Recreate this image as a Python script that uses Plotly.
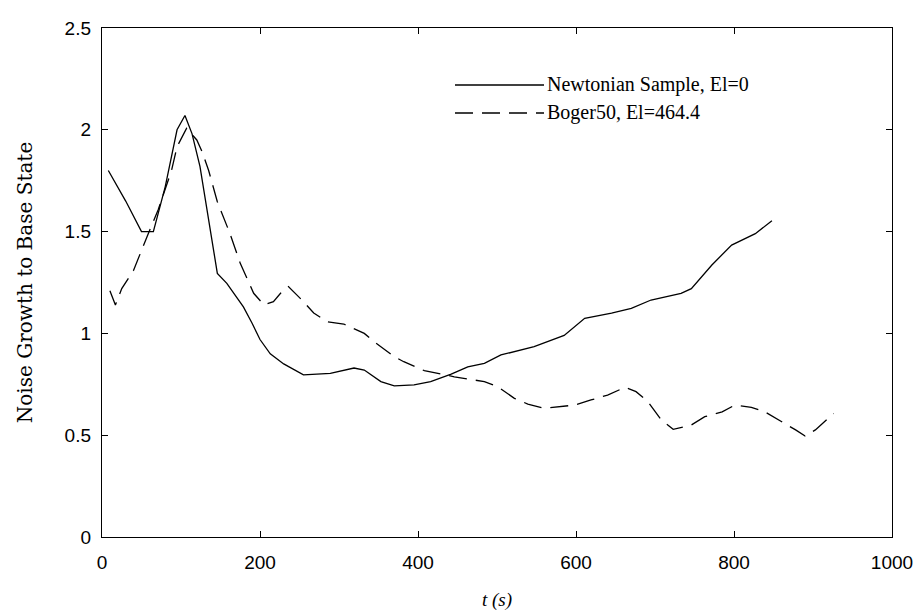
import plotly.graph_objects as go

# Newtonian sample (El = 0)
t_newt = [8, 30, 50, 65, 80, 95, 105, 114, 124, 135, 146, 158, 166, 179, 190, 200, 213, 230,
          255, 289, 319, 332, 353, 370, 395, 416, 442, 463, 484, 505, 547, 585, 611, 645,
          670, 695, 733, 746, 772, 797, 827, 848]
g_newt = [1.80, 1.65, 1.50, 1.50, 1.72, 2.00, 2.07, 1.98, 1.82, 1.55, 1.295, 1.246, 1.20, 1.13,
          1.05, 0.97, 0.90, 0.85, 0.796, 0.804, 0.83, 0.82, 0.763, 0.742, 0.747, 0.763, 0.80,
          0.836, 0.853, 0.894, 0.935, 0.99, 1.074, 1.10, 1.123, 1.164, 1.197, 1.22, 1.336,
          1.434, 1.49, 1.553]

# Boger50 fluid (El = 464.4)
t_boger = [10, 17, 25, 40, 57, 71, 88, 95, 107, 120, 127, 135, 146, 162, 175, 192, 205, 217,
           226, 236, 255, 268, 285, 306, 332, 344, 370, 382, 408, 446, 484, 501, 522, 539,
           560, 598, 619, 640, 662, 676, 691, 708, 723, 746, 763, 785, 801, 822, 839, 861,
           878, 890, 903, 926]
g_boger = [1.21, 1.14, 1.22, 1.31, 1.475, 1.606, 1.80, 1.917, 2.007, 1.95, 1.89, 1.80, 1.647,
           1.49, 1.344, 1.197, 1.14, 1.156, 1.197, 1.23, 1.156, 1.10, 1.057, 1.046, 1.0, 0.96,
           0.886, 0.861, 0.817, 0.787, 0.763, 0.738, 0.681, 0.653, 0.632, 0.648, 0.673,
           0.697, 0.735, 0.714, 0.665, 0.575, 0.529, 0.55, 0.591, 0.615, 0.648, 0.637, 0.615,
           0.566, 0.526, 0.496, 0.526, 0.607]

series_names = ["Newtonian Sample, El=0", "Boger50, El=464.4"]
x_ticks = [0, 200, 400, 600, 800, 1000]
y_ticks = [0, 0.5, 1, 1.5, 2, 2.5]
y_tick_text = ["0", "0.5", "1", "1.5", "2", "2.5"]

DASH = "18px,9px"
fig = go.Figure()
fig.add_trace(go.Scatter(x=t_newt, y=g_newt, mode="lines", name=series_names[0],
                         line=dict(color="black", width=1.3), showlegend=False))
fig.add_trace(go.Scatter(x=t_boger, y=g_boger, mode="lines", name=series_names[1],
                         line=dict(color="black", width=1.3, dash=DASH), showlegend=False))

# Legend drawn by hand so the line samples can be long
W, H = 922, 612
L, R, T, B = 102, 30, 28, 75
pw, ph = W - L - R, H - T - B


def px(x):
    return (x - L) / pw


def py(y):
    return (H - B - y) / ph


legend_rows = [(85, None), (113, DASH)]
for (ypix, dash), name in zip(legend_rows, series_names):
    fig.add_shape(type="line", xref="paper", yref="paper",
                  x0=px(455), x1=px(544), y0=py(ypix), y1=py(ypix),
                  line=dict(color="black", width=1.3, dash=dash))
    fig.add_annotation(xref="paper", yref="paper", x=px(545), y=py(ypix),
                       xanchor="left", yanchor="middle", showarrow=False, text=name,
                       font=dict(family="Liberation Serif", size=20, color="black"))

axis_common = dict(showline=True, linecolor="black", linewidth=1.4, mirror="ticks",
                   ticks="inside", ticklen=6, tickcolor="black", tickwidth=1,
                   showgrid=False, zeroline=False, automargin=False,
                   tickfont=dict(family="Liberation Sans", size=19, color="black"))

fig.update_layout(
    width=W, height=H,
    margin=dict(l=L, r=R, t=T, b=B),
    paper_bgcolor="white", plot_bgcolor="white",
    xaxis=dict(range=[0, 1000], tickvals=x_ticks, ticklabelstandoff=8,
               title=dict(text="<i>t (s)</i>", standoff=20,
                          font=dict(family="Liberation Serif", size=19, color="black")),
               **axis_common),
    yaxis=dict(range=[0, 2.5], tickvals=y_ticks, ticktext=y_tick_text, ticklabelstandoff=6,
               title=dict(text="Noise Growth to Base State", standoff=26,
                          font=dict(family="DejaVu Serif", size=20, color="black")),
               **axis_common),
)

fig.write_html("out.html")
